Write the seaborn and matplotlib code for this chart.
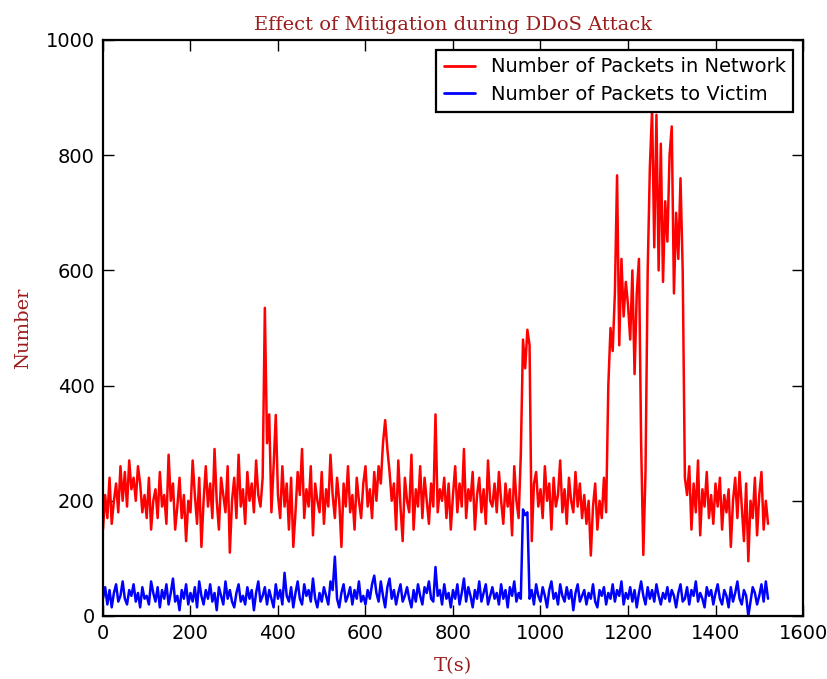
import numpy as np
import pandas as pd
import matplotlib
matplotlib.use("Agg")
import matplotlib.pyplot as plt
import seaborn as sns

step = 5
network = [
    150, 210, 170, 240, 160, 200, 230, 180, 260, 200, 250, 190, 270, 220, 240, 200, 260, 230, 180, 210,
    170, 240, 150, 200, 220, 170, 250, 190, 210, 160, 280, 200, 230, 150, 190, 240, 170, 210, 130, 200,
    180, 270, 210, 160, 240, 120, 200, 260, 190, 230, 170, 290, 200, 150, 240, 210, 180, 260, 110, 200,
    240, 170, 280, 190, 220, 160, 250, 200, 230, 180, 270, 210, 190, 240, 535, 300, 350, 180, 260, 349,
    210, 170, 260, 190, 230, 150, 240, 120, 180, 250, 210, 290, 170, 220, 190, 260, 140, 230, 200, 180,
    250, 160, 220, 190, 280, 210, 170, 240, 200, 120, 230, 190, 260, 180, 210, 150, 240, 200, 170, 230,
    260, 190, 220, 170, 250, 200, 260, 230, 300, 340, 290, 250, 200, 230, 150, 270, 190, 130, 240, 200,
    180, 280, 150, 220, 190, 260, 170, 240, 200, 160, 230, 190, 350, 180, 220, 200, 240, 170, 230, 150,
    210, 260, 180, 230, 190, 290, 170, 220, 200, 250, 150, 210, 240, 180, 220, 160, 270, 200, 190, 230,
    180, 250, 200, 160, 230, 190, 220, 140, 260, 200, 170, 280, 480, 430, 497, 470, 130, 230, 250, 190,
    220, 170, 260, 200, 230, 150, 240, 190, 210, 270, 180, 220, 160, 240, 200, 180, 250, 190, 230, 170,
    210, 160, 200, 105, 190, 230, 150, 200, 170, 240, 180, 400, 500, 460, 560, 765, 470, 620, 520, 580,
    540, 480, 600, 420, 560, 620, 300, 106, 250, 600, 780, 880, 640, 870, 600, 820, 580, 720, 650, 800,
    850, 560, 700, 620, 760, 600, 240, 210, 260, 150, 230, 180, 270, 140, 220, 190, 250, 170, 210, 160,
    230, 190, 240, 150, 210, 180, 220, 120, 200, 240, 170, 250, 190, 130, 230, 95, 200, 170, 240, 140,
    210, 250, 150, 200, 160,
]
victim = [
    30, 50, 20, 45, 15, 40, 55, 25, 35, 60, 30, 20, 45, 35, 55, 25, 40, 15, 50, 30,
    35, 20, 60, 40, 25, 50, 15, 45, 30, 55, 20, 40, 65, 25, 35, 10, 45, 30, 55, 20,
    40, 25, 50, 15, 60, 35, 20, 45, 30, 55, 25, 40, 10, 50, 35, 20, 60, 30, 45, 25,
    15, 40, 55, 25, 35, 20, 50, 30, 45, 10, 40, 60, 25, 35, 50, 20, 45, 30, 15, 55,
    30, 45, 20, 75, 35, 25, 50, 15, 40, 60, 30, 20, 55, 35, 45, 25, 65, 30, 15, 40,
    25, 50, 35, 20, 60, 45, 103, 30, 15, 40, 55, 25, 35, 50, 20, 45, 30, 60, 25, 35,
    20, 45, 30, 55, 70, 40, 25, 60, 35, 15, 50, 65, 30, 45, 20, 40, 55, 25, 35, 50,
    30, 15, 45, 25, 55, 35, 20, 50, 40, 60, 30, 25, 85, 35, 45, 20, 55, 30, 40, 15,
    45, 30, 55, 20, 40, 65, 25, 50, 35, 15, 45, 30, 60, 25, 40, 55, 20, 35, 50, 30,
    40, 20, 55, 30, 45, 15, 50, 35, 60, 25, 40, 30, 185, 175, 180, 30, 45, 20, 55, 35,
    25, 50, 35, 15, 45, 60, 30, 40, 20, 55, 35, 25, 50, 30, 45, 10, 40, 55, 25, 35,
    45, 20, 40, 30, 55, 25, 15, 45, 35, 50, 20, 40, 30, 55, 25, 45, 35, 60, 20, 40,
    30, 50, 25, 45, 15, 40, 60, 35, 20, 50, 30, 45, 25, 55, 35, 20, 40, 30, 50, 25,
    45, 35, 15, 40, 55, 25, 30, 50, 20, 45, 35, 60, 25, 40, 30, 15, 50, 35, 45, 20,
    40, 55, 30, 20, 45, 35, 15, 50, 25, 40, 60, 30, 20, 45, 35, 0, 25, 50, 40, 20,
    35, 55, 25, 60, 30,
]
times = [i * step for i in range(len(network))]
labels = ["Number of Packets in Network", "Number of Packets to Victim"]
xticks = [0, 200, 400, 600, 800, 1000, 1200, 1400, 1600]
yticks = [0, 200, 400, 600, 800, 1000]

df = pd.concat([
    pd.DataFrame({"T": times, "N": network, "series": labels[0]}),
    pd.DataFrame({"T": times, "N": victim, "series": labels[1]}),
])

sns.set_style("ticks")
plt.rcParams["font.family"] = ["DejaVu Sans"]
plt.rcParams["text.color"] = "black"

fig = plt.figure(figsize=(8.27, 6.79), dpi=100)
ax = fig.add_axes([0.1245, 0.0928, 0.8465, 0.8483])
sns.lineplot(data=df, x="T", y="N", hue="series", palette=["#ff0000", "#0000ff"],
             estimator=None, linewidth=1.8, ax=ax)

ax.set_xlim(0, 1600)
ax.set_ylim(0, 1000)
ax.set_xticks(xticks)
ax.set_yticks(yticks)
ax.tick_params(direction="in", length=8, width=1, top=True, right=True,
               labelsize=14, pad=6, colors="black")
for s in ax.spines.values():
    s.set_linewidth(1.6)
    s.set_color("black")

tc = "#9b1c1c"
ax.set_title("Effect of Mitigation during DDoS Attack", family="DejaVu Serif",
             color=tc, fontsize=14, pad=7)
ax.set_xlabel("T(s)", family="DejaVu Serif", color=tc, fontsize=14, labelpad=10)
ax.set_ylabel("Number", family="DejaVu Serif", color=tc, fontsize=14, labelpad=10)

leg = ax.legend(loc="upper right", fontsize=14, fancybox=False, framealpha=1,
                edgecolor="black", handlelength=1.6, borderaxespad=0.5,
                labelspacing=0.45, labelcolor="black")
leg.get_frame().set_linewidth(1.6)
for h in leg.get_lines():
    h.set_linewidth(2)

fig.savefig("out.png", dpi=100)
